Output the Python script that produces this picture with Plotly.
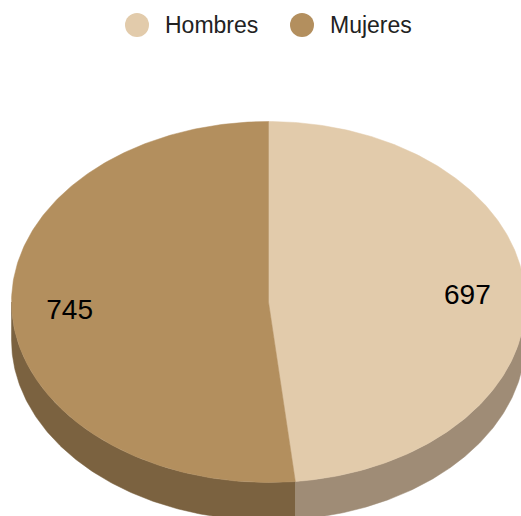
import numpy as np
import plotly.graph_objects as go

categories = ["Hombres", "Mujeres"]
values = [697, 745]
top_colors = ["#E2CBAB", "#B38F5E"]
side_colors = ["#9F8C76", "#7B6240"]

W, H = 521, 516
cx, cy, rx, ry, depth = 268.5, 302, 257, 180.5, 38
label_r = 0.775
label_dy = 2.5
FONT = "Liberation Sans, Arial, sans-serif"


def pt(theta, f=1.0, dy=0.0):
    return cx + rx * f * np.sin(theta), cy - ry * f * np.cos(theta) + dy


fractions = np.array(values) / sum(values)
edges = np.concatenate([[0], np.cumsum(fractions)]) * 2 * np.pi

fig = go.Figure()

# extruded side walls (only the front half, pi/2..3pi/2, can be seen)
for i in range(len(values)):
    a = max(edges[i], np.pi / 2)
    b = min(edges[i + 1], 3 * np.pi / 2)
    if b <= a:
        continue
    t = np.linspace(a, b, 160)
    x1, y1 = pt(t)
    x2, y2 = pt(t[::-1], dy=depth)
    fig.add_trace(go.Scatter(
        x=np.concatenate([x1, x2]), y=np.concatenate([y1, y2]),
        mode="lines", fill="toself", fillcolor=side_colors[i],
        line=dict(width=0.5, color=side_colors[i]), hoverinfo="skip", showlegend=False))

# top faces
for i, name in enumerate(categories):
    t = np.linspace(edges[i], edges[i + 1], 240)
    x, y = pt(t)
    fig.add_trace(go.Scatter(
        x=np.concatenate([[cx], x, [cx]]), y=np.concatenate([[cy], y, [cy]]),
        mode="lines", fill="toself", fillcolor=top_colors[i],
        line=dict(width=0.5, color=top_colors[i]), name=name,
        hoverinfo="name", showlegend=False))

# value labels
mids = (edges[:-1] + edges[1:]) / 2
lx, ly = pt(mids, f=label_r, dy=label_dy)
fig.add_trace(go.Scatter(
    x=lx, y=ly, mode="text", text=[str(v) for v in values],
    textposition="middle center",
    textfont=dict(family=FONT, size=28, color="#000000"),
    hoverinfo="skip", showlegend=False))

# legend
legend_x = [137, 302]
legend_y = 25
fig.add_trace(go.Scatter(
    x=legend_x, y=[legend_y] * 2, mode="markers",
    marker=dict(size=24, color=top_colors, line=dict(width=0)),
    hoverinfo="skip", showlegend=False))
annotations = [
    dict(x=lxi + 26, y=legend_y, xref="x", yref="y", text=c, showarrow=False,
         xanchor="left", yanchor="middle",
         font=dict(family=FONT, size=23, color="#222222"))
    for lxi, c in zip(legend_x, categories)
]

fig.update_layout(
    width=W, height=H, autosize=False,
    margin=dict(l=0, r=0, t=0, b=0),
    paper_bgcolor="#ffffff", plot_bgcolor="#ffffff",
    showlegend=False, annotations=annotations,
    xaxis=dict(range=[0, W], visible=False, fixedrange=True),
    yaxis=dict(range=[H, 0], visible=False, fixedrange=True),
)
fig.write_html(
    "out.html",
    config=dict(displayModeBar=False),
    post_script="document.body.style.margin='0';document.body.style.overflow='hidden';",
)
